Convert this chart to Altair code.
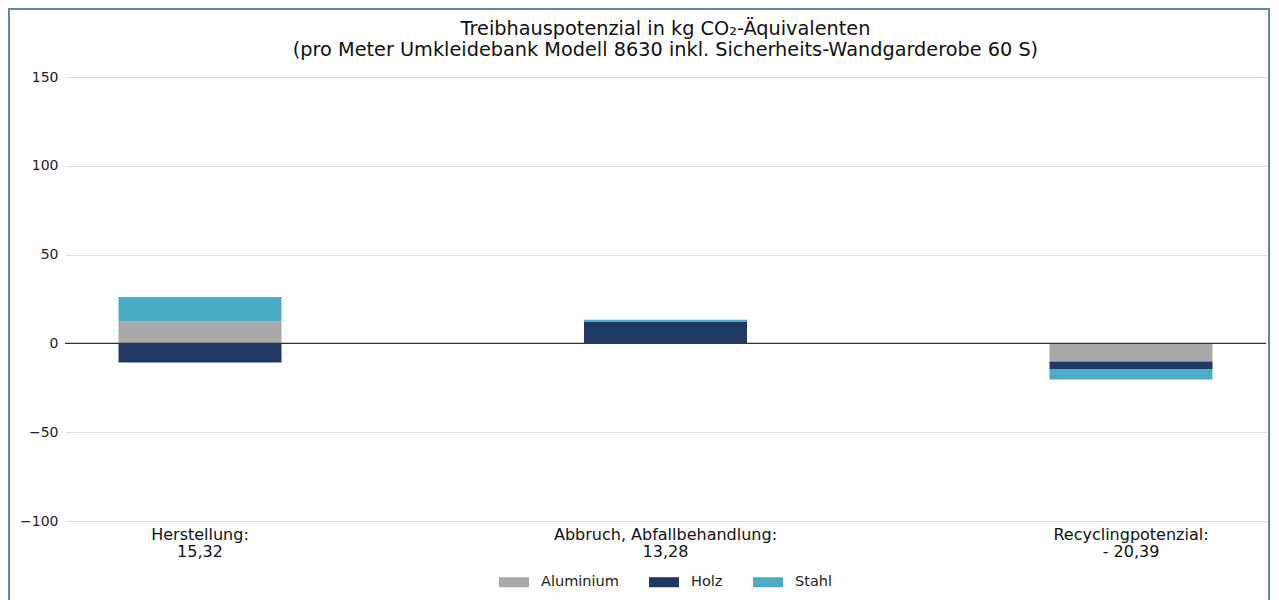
import altair as alt
import pandas as pd

stages = ["Herstellung", "Abbruch, Abfallbehandlung", "Recyclingpotenzial"]
totals = ["15,32", "13,28", "- 20,39"]
materials = ["Aluminium", "Holz", "Stahl"]
aluminium = [12.3, 0.0, -10.2]
holz = [-10.8, 12.4, -4.2]
stahl = [13.82, 0.88, -5.99]
colors = ["#a9a9a9", "#1f3864", "#4bacc6"]
y_ticks = [-100, -50, 0, 50, 100, 150]
title_lines = ["Treibhauspotenzial in kg CO₂-Äquivalenten",
               "(pro Meter Umkleidebank Modell 8630 inkl. Sicherheits-Wandgarderobe 60 S)"]

labels = [f"{s}:|{t}" for s, t in zip(stages, totals)]
rows = []
for i, lab in enumerate(labels):
    for j, (m, vals) in enumerate(zip(materials, [aluminium, holz, stahl])):
        rows.append({"stage": lab, "material": m, "value": vals[i], "ord": j})
df = pd.DataFrame(rows)

FONT = "DejaVu Sans"
W, H = 1201, 444

bars = alt.Chart(df).mark_bar(size=163).encode(
    x=alt.X("stage:N", sort=labels,
            scale=alt.Scale(paddingInner=0.65, paddingOuter=0.115),
            axis=alt.Axis(title=None, labelAngle=0, domain=False, ticks=False,
                          grid=False,
                          labelPadding=5, labelFontSize=16, labelColor="#111",
                          labelFont=FONT, labelLineHeight=17, labelLimit=0,
                          labelExpr="split(datum.label, '|')")),
    y=alt.Y("value:Q", stack="zero",
            scale=alt.Scale(domain=[-100, 150], nice=False, zero=False),
            axis=alt.Axis(title=None, values=y_ticks, domain=False, ticks=False,
                          labelPadding=7, labelFontSize=14, labelColor="#222",
                          labelFont=FONT, gridColor="#dddddd", gridWidth=1)),
    color=alt.Color("material:N", scale=alt.Scale(domain=materials, range=colors),
                    legend=alt.Legend(title=None, orient="none", direction="horizontal",
                                      legendX=439, legendY=495, padding=0,
                                      symbolType="M-1.5,-0.5H1.5V0.5H-1.5Z",
                                      symbolSize=400, symbolStrokeWidth=0,
                                      symbolOpacity=1,
                                      labelFontSize=14.5, labelFont=FONT,
                                      labelColor="#222", labelOffset=17,
                                      columnPadding=30)),
    order=alt.Order("ord:Q"),
)

one = pd.DataFrame({"z": [0]})

zero = alt.Chart(one).mark_rule(color="#333333", strokeWidth=1.2).encode(
    y=alt.datum(0)
)

title = alt.Chart(one).mark_text(
    text=title_lines, font=FONT, fontSize=19.3, color="#111",
    align="center", baseline="middle", lineHeight=21,
).encode(x=alt.value(W / 2), y=alt.value(-48))

border = alt.Chart(one).mark_rect(
    fill="transparent", stroke="#5b8d92", strokeWidth=2
).encode(
    x=alt.value(-56), x2=alt.value(1204), y=alt.value(-68), y2=alt.value(620)
)

chart = alt.layer(bars, zero, title, border).properties(
    width=W, height=H,
    background="white",
    padding={"left": 57, "top": 69, "right": 5, "bottom": 79},
    autosize=alt.AutoSizeParams(type="none"),
).configure_view(stroke="transparent", strokeWidth=0)

chart.save("out.html", embed_options={"renderer": "svg", "actions": False})
